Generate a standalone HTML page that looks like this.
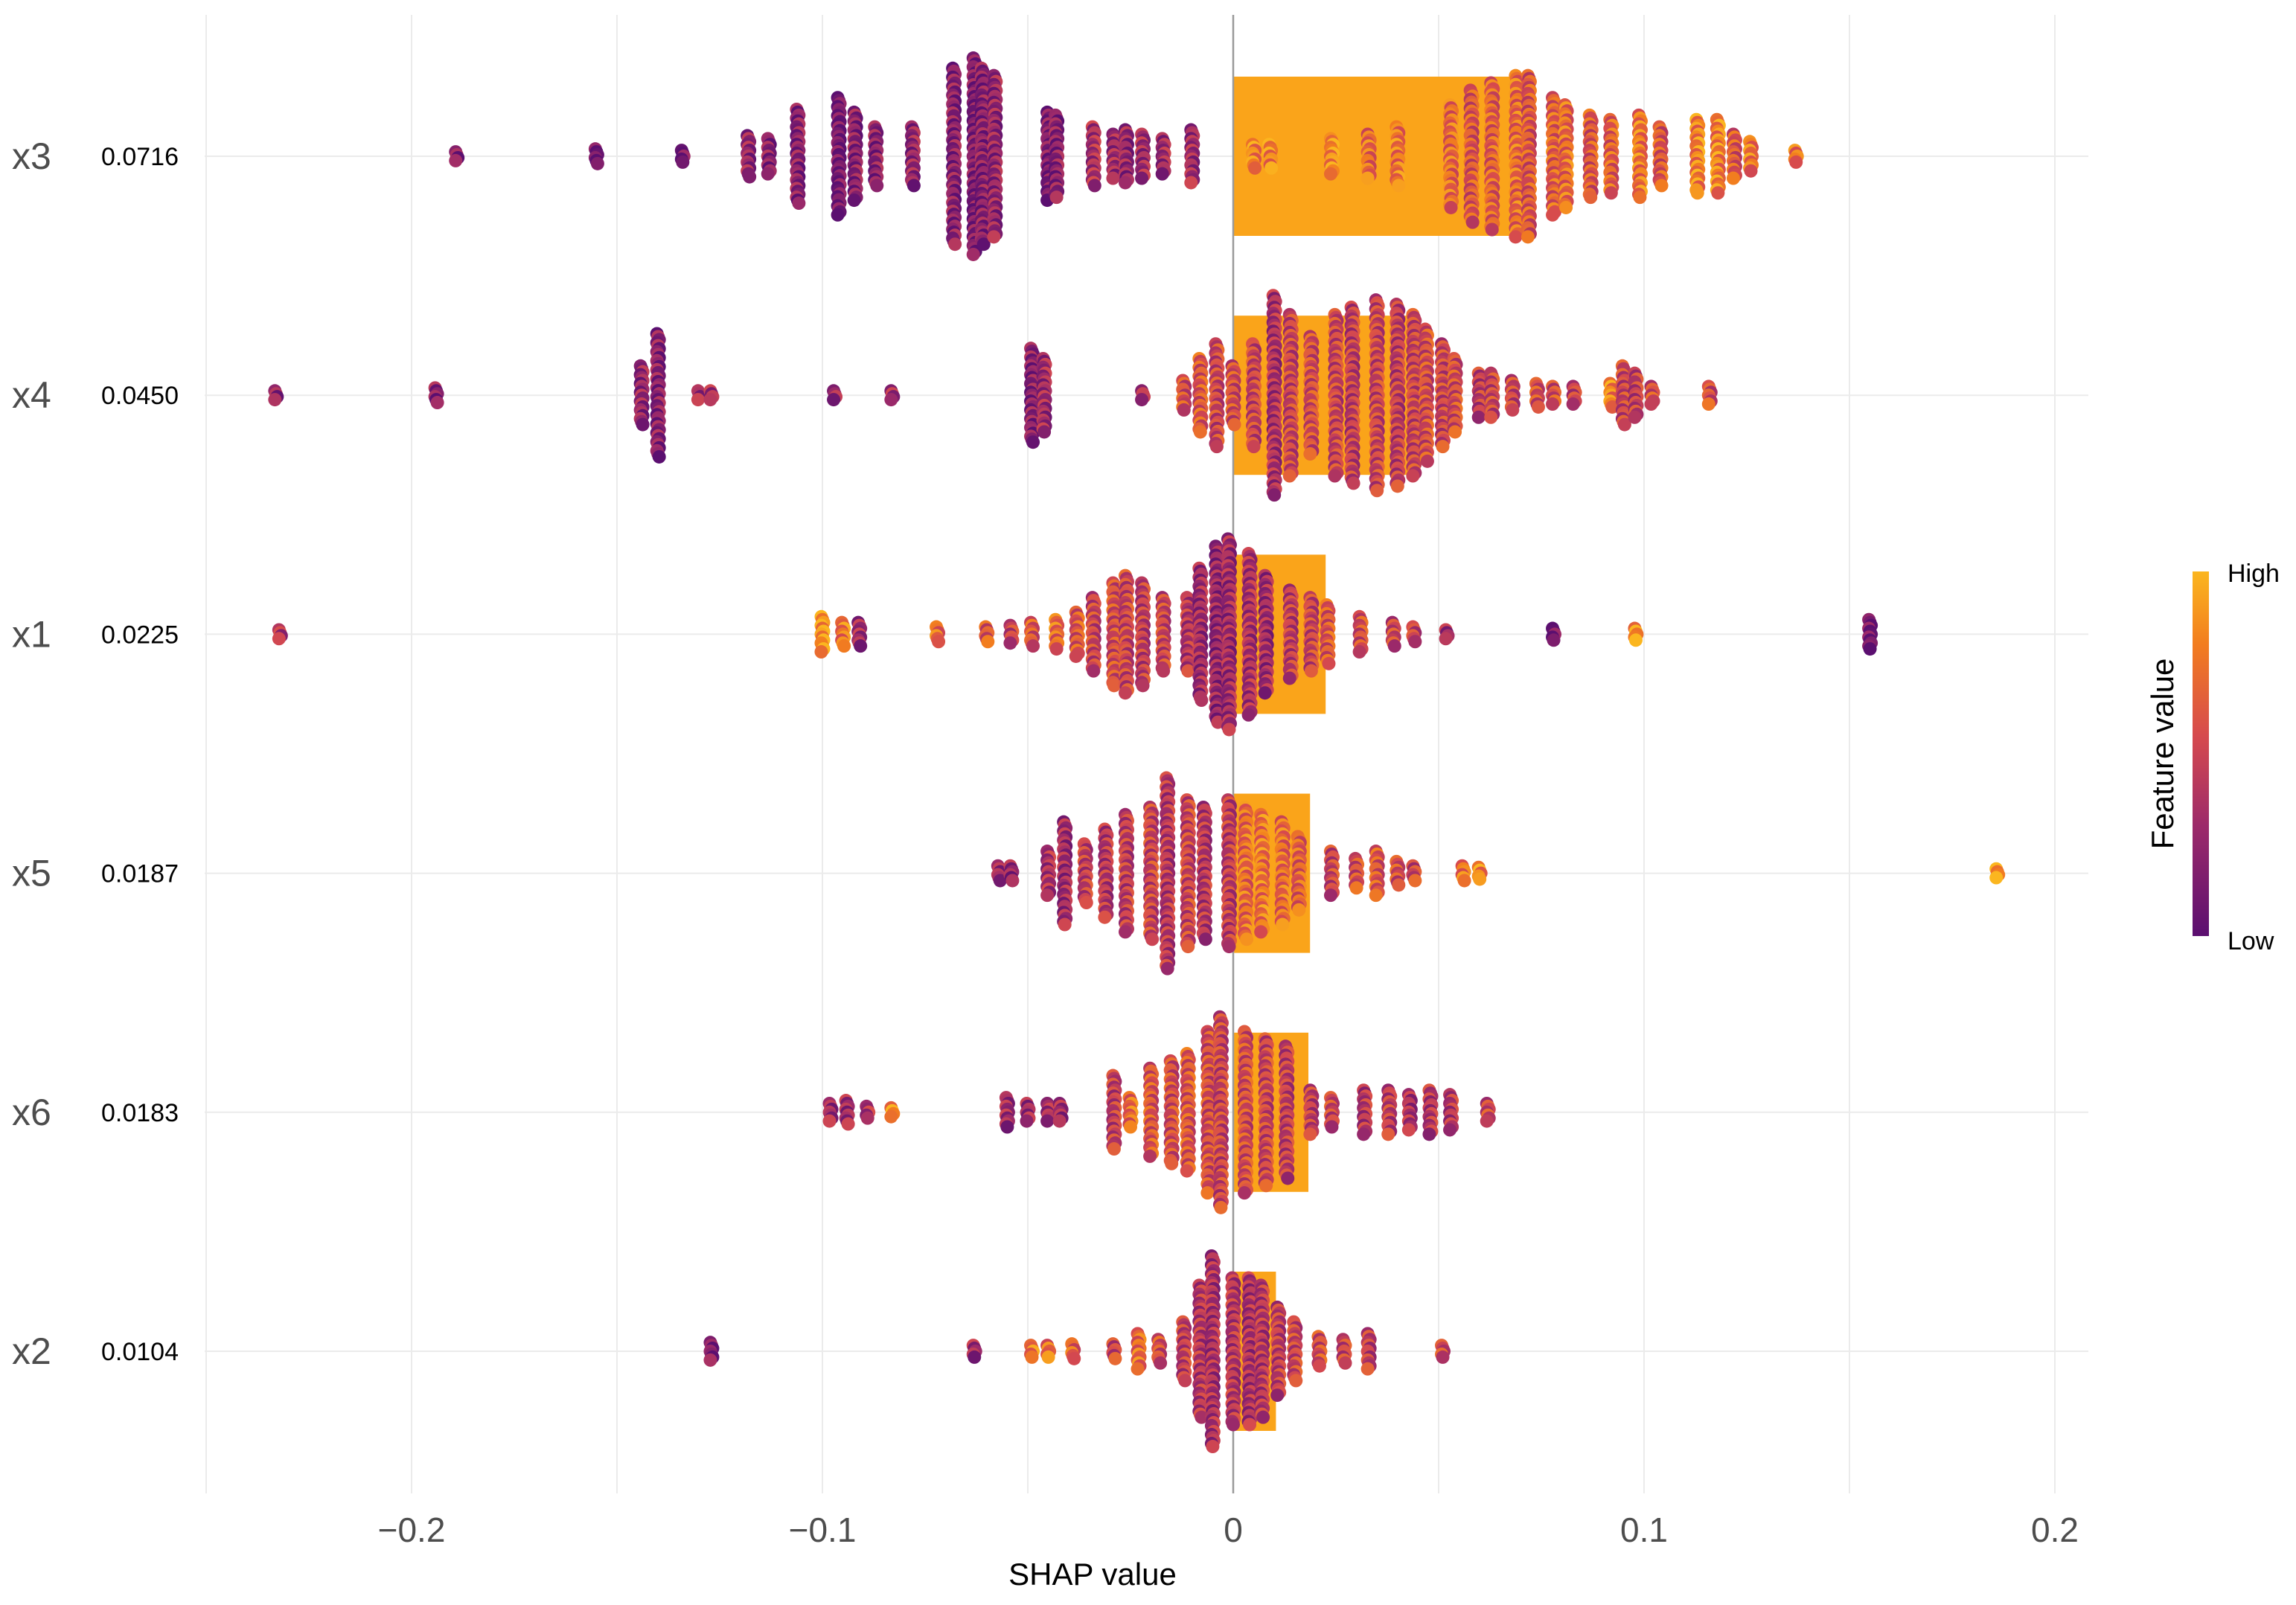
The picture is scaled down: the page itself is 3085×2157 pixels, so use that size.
<!DOCTYPE html>
<html><head><meta charset="utf-8"><style>
html,body{margin:0;padding:0;background:#fff;}
svg{display:block;font-family:"Liberation Sans",Arial,sans-serif;}
</style></head><body>
<svg id="chart" width="3085" height="2157" viewBox="0 0 3085 2157" xmlns="http://www.w3.org/2000/svg">
<g id="grid"></g>
<g id="bars"></g>
<g id="zero"></g>
<g id="dots"></g>
<g id="labels"></g>
<text x="1468" y="2130" font-size="42" text-anchor="middle" fill="#000">SHAP value</text>
<g>
<defs><linearGradient id="lg" x1="0" y1="1" x2="0" y2="0">
<stop offset="0" stop-color="#5b0f70"/><stop offset="0.3" stop-color="#9c2a6a"/><stop offset="0.55" stop-color="#d64a4e"/><stop offset="0.8" stop-color="#f27d1f"/><stop offset="1" stop-color="#fbb61f"/></linearGradient></defs>
<rect x="2946" y="768" width="22" height="490" fill="url(#lg)"/>
<text x="2993" y="782" font-size="34" fill="#000">High</text>
<text x="2993" y="1276" font-size="34" fill="#000">Low</text>
<text transform="translate(2920,1013) rotate(-90)" font-size="42" text-anchor="middle" fill="#000">Feature value</text>
</g>
</svg>
<script>
const features = ["x3","x4","x1","x5","x6","x2"];
const importance = [0.0716,0.0450,0.0225,0.0187,0.0183,0.0104];
const importanceLabels = ["0.0716","0.0450","0.0225","0.0187","0.0183","0.0104"];
const xTicks = [-0.2,-0.1,0,0.1,0.2];
const xTickLabels = ["\u22120.2","\u22120.1","0","0.1","0.2"];
const gridVals = [-0.25,-0.2,-0.15,-0.1,-0.05,0,0.05,0.1,0.15,0.2];
// clusters: shap value, density (spread), mean feature value (0 low .. 1 high)
const x3Shap = [-0.189,-0.155,-0.134,-0.118,-0.113,-0.106,-0.096,-0.092,-0.087,-0.078,-0.068,-0.063,-0.061,-0.058,-0.045,-0.043,-0.034,-0.029,-0.026,-0.022,-0.017,-0.010,0.005,0.009,0.024,0.033,0.040,0.053,0.058,0.063,0.069,0.072,0.078,0.081,0.087,0.092,0.099,0.104,0.113,0.118,0.122,0.126,0.137];
const x3Dens = [3,5,4,14,12,32,40,30,20,20,60,67,60,55,30,28,20,15,18,15,12,18,8,8,12,15,20,35,45,50,55,55,40,35,28,25,28,20,25,25,15,10,4];
const x3Feat = [0.2,0.05,0.1,0.25,0.2,0.2,0.1,0.2,0.2,0.25,0.2,0.15,0.2,0.25,0.15,0.2,0.35,0.3,0.25,0.3,0.3,0.3,0.8,0.8,0.85,0.7,0.75,0.7,0.6,0.65,0.7,0.6,0.65,0.7,0.6,0.65,0.75,0.6,0.8,0.8,0.6,0.75,0.75];
const x4Shap = [-0.233,-0.194,-0.144,-0.140,-0.130,-0.127,-0.097,-0.083,-0.049,-0.046,-0.022,-0.012,-0.008,-0.004,0.000,0.005,0.010,0.014,0.019,0.025,0.029,0.035,0.040,0.044,0.047,0.051,0.054,0.060,0.063,0.068,0.074,0.078,0.083,0.092,0.095,0.098,0.102,0.116];
const x4Dens = [3,5,20,42,3,3,3,3,32,25,3,10,25,35,20,35,68,55,40,55,60,65,62,55,45,35,25,15,15,10,8,6,6,8,20,15,6,6];
const x4Feat = [0.25,0.2,0.25,0.2,0.3,0.35,0.3,0.3,0.2,0.3,0.4,0.55,0.6,0.5,0.55,0.5,0.35,0.5,0.55,0.5,0.45,0.5,0.45,0.5,0.55,0.5,0.55,0.45,0.5,0.5,0.55,0.55,0.5,0.8,0.5,0.45,0.55,0.55];
const x1Shap = [-0.232,-0.100,-0.095,-0.091,-0.072,-0.060,-0.054,-0.049,-0.043,-0.038,-0.034,-0.029,-0.026,-0.022,-0.017,-0.011,-0.008,-0.004,-0.001,0.004,0.008,0.014,0.019,0.023,0.031,0.039,0.044,0.052,0.078,0.098,0.155];
const x1Dens = [3,12,8,8,5,5,6,8,10,15,25,35,40,35,25,25,45,60,65,55,40,30,25,20,12,8,5,3,4,4,10];
const x1Feat = [0.4,0.9,0.75,0.3,0.7,0.6,0.5,0.6,0.7,0.6,0.5,0.55,0.5,0.45,0.5,0.4,0.3,0.25,0.3,0.35,0.3,0.45,0.5,0.6,0.55,0.5,0.5,0.3,0.1,0.85,0.1];
const x5Shap = [-0.057,-0.054,-0.045,-0.041,-0.036,-0.031,-0.026,-0.020,-0.016,-0.011,-0.007,-0.001,0.003,0.007,0.012,0.016,0.024,0.030,0.035,0.040,0.044,0.056,0.060,0.186];
const x5Dens = [5,5,15,35,20,30,40,45,65,50,45,50,45,40,35,25,15,10,15,8,5,5,4,3];
const x5Feat = [0.3,0.25,0.35,0.3,0.45,0.4,0.45,0.5,0.4,0.5,0.4,0.45,0.7,0.75,0.7,0.65,0.5,0.55,0.6,0.55,0.5,0.75,0.8,0.85];
const x6Shap = [-0.098,-0.094,-0.089,-0.083,-0.055,-0.050,-0.045,-0.042,-0.029,-0.025,-0.020,-0.015,-0.011,-0.006,-0.003,0.003,0.008,0.013,0.019,0.024,0.032,0.038,0.043,0.048,0.053,0.062];
const x6Dens = [6,8,4,3,10,6,6,6,25,10,30,35,40,55,65,55,50,45,15,10,15,15,12,15,12,6];
const x6Feat = [0.3,0.3,0.35,0.85,0.3,0.3,0.35,0.3,0.45,0.7,0.6,0.55,0.6,0.55,0.5,0.55,0.5,0.45,0.45,0.5,0.4,0.45,0.35,0.4,0.4,0.5];
const x2Shap = [-0.127,-0.063,-0.049,-0.045,-0.039,-0.029,-0.023,-0.018,-0.012,-0.008,-0.005,0.000,0.004,0.007,0.011,0.015,0.021,0.027,0.033,0.051];
const x2Dens = [6,4,4,4,5,5,12,8,20,45,65,50,50,45,30,20,10,8,12,4];
const x2Feat = [0.15,0.3,0.75,0.7,0.65,0.5,0.7,0.55,0.45,0.4,0.35,0.4,0.35,0.4,0.45,0.5,0.55,0.5,0.45,0.5];
const shapArr = [x3Shap,x4Shap,x1Shap,x5Shap,x6Shap,x2Shap];
const densArr = [x3Dens,x4Dens,x1Dens,x5Dens,x6Dens,x2Dens];
const featArr = [x3Feat,x4Feat,x1Feat,x5Feat,x6Feat,x2Feat];

const NS="http://www.w3.org/2000/svg";
const X0=1657, PX_PER_UNIT=5520, TOP=20, BOTTOM=2007, LEFT=275, RIGHT=2806;
const ROW0=210, ROWSTEP=321.2, BARH=107;
const xs=v=>X0+v*PX_PER_UNIT;
const ys=i=>ROW0+i*ROWSTEP;
function mk(tag,attrs,parent){const e=document.createElementNS(NS,tag);for(const k in attrs)e.setAttribute(k,attrs[k]);parent.appendChild(e);return e;}
const stops=[[0,[91,15,112]],[0.3,[156,42,106]],[0.55,[214,74,78]],[0.8,[242,125,31]],[1,[251,182,31]]];
function cmap(t){t=Math.max(0,Math.min(1,t));for(let i=1;i<stops.length;i++){if(t<=stops[i][0]){const a=stops[i-1],b=stops[i];const f=(t-a[0])/(b[0]-a[0]);const c=a[1].map((v,j)=>Math.round(v+(b[1][j]-v)*f));return `rgb(${c[0]},${c[1]},${c[2]})`;}}return 'rgb(251,182,31)';}

const grid=document.getElementById('grid');
gridVals.forEach(v=>{const l=mk('line',{x1:xs(v),x2:xs(v),y1:TOP,y2:BOTTOM,stroke:'#ebebeb','stroke-width':2},grid);

});
features.forEach((f,i)=>{const l=mk('line',{x1:LEFT,x2:RIGHT,y1:ys(i),y2:ys(i),stroke:'#ebebeb','stroke-width':2},grid);

});

const bars=document.getElementById('bars');
importance.forEach((v,i)=>{const r=mk('rect',{x:xs(0),y:ys(i)-BARH,width:xs(v)-xs(0),height:2*BARH,fill:'#faa41a'},bars);

});

const z=mk('line',{x1:xs(0),x2:xs(0),y1:TOP,y2:BOTTOM,stroke:'#9a9a9a','stroke-width':2.5},document.getElementById('zero'));



const dots=document.getElementById('dots');
shapArr.forEach((arr,fi)=>{
  const g=mk('g',{},dots);
  
  
  arr.forEach((v,ci)=>{
    const half=densArr[fi][ci]*1.97;
    const cx=xs(v), cy=ys(fi);
    const n=Math.max(1,Math.round(half*2/4));
    for(let k=0;k<=n;k++){
      const y=cy-half+(2*half)*k/n;
      const t=featArr[fi][ci]+0.22*Math.sin(k*2.3+ci*1.7);
      const c=mk('circle',{cx:cx+((k%3)-1)*1.5,cy:y,r:9,fill:cmap(t)},g);
      
      
    }
  });
});

const lab=document.getElementById('labels');
features.forEach((f,i)=>{
  const t=mk('text',{x:16,y:ys(i)+17,'font-size':50,fill:'#4d4d4d'},lab);t.textContent=f;
  
  
  const t2=mk('text',{x:136,y:ys(i)+12,'font-size':34,fill:'#000'},lab);t2.textContent=importanceLabels[i];
  
  
});
xTicks.forEach((v,i)=>{
  const t=mk('text',{x:xs(v),y:2072,'font-size':46,fill:'#4d4d4d','text-anchor':'middle'},lab);t.textContent=xTickLabels[i];
  
  
});
</script>
</body></html>
